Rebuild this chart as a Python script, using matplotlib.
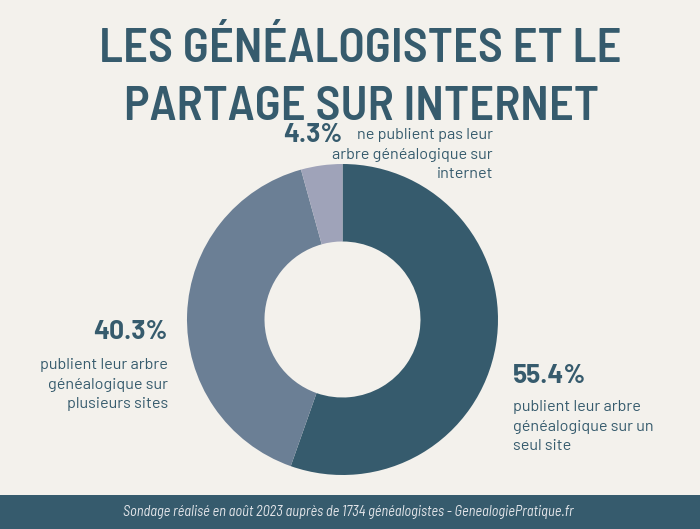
import matplotlib.pyplot as plt
from matplotlib.patches import Rectangle

values = [55.4, 40.3, 4.3]
pct_labels = ["55.4%", "40.3%", "4.3%"]
descriptions = [
    "publient leur arbre\ngénéalogique sur un\nseul site",
    "publient leur arbre\ngénéalogique sur\nplusieurs sites",
    "ne publient pas leur\narbre généalogique sur\ninternet",
]
colors = ["#365b6d", "#6b7f95", "#9fa3b9"]
title_lines = ["LES GÉNÉALOGISTES ET LE", "PARTAGE SUR INTERNET"]
footer = "Sondage réalisé en août 2023 auprès de 1734 généalogistes - GenealogiePratique.fr"

bg = "#f3f1ec"
dark = "#365b6d"
W, H = 700, 529

title_font = ["Barlow Semi Condensed", "Roboto", "DejaVu Sans"]
lab_font = ["Barlow", "Roboto", "DejaVu Sans"]
foot_font = ["Barlow Semi Condensed", "Roboto", "DejaVu Sans"]

def Y(y):
    return H - y

fig = plt.figure(figsize=(7, 5.29), dpi=100, facecolor=bg)
ax = fig.add_axes([0, 0, 1, 1])
ax.set_facecolor(bg)

ax.pie(values, colors=colors, startangle=90, counterclock=False,
       center=(342.5, Y(319.5)), radius=155.5,
       wedgeprops=dict(width=77.5, edgecolor="none"))
ax.set_xlim(0, W)
ax.set_ylim(0, H)
ax.axis("off")

# title
ax.text(360, Y(62), title_lines[0], ha="center", va="baseline", fontsize=35,
        fontweight="semibold", color=dark, family=title_font)
ax.text(361, Y(120), title_lines[1], ha="center", va="baseline", fontsize=35,
        fontweight="semibold", color=dark, family=title_font)

# labels
pct_size = 19
desc_size = 11.7
ax.text(342, Y(142), pct_labels[2], ha="right", va="baseline", fontsize=pct_size,
        fontweight="bold", color=dark, family=lab_font)
ax.text(493, Y(178), descriptions[2], ha="right", va="baseline", fontsize=desc_size,
        color=dark, linespacing=1.5, family=lab_font)

ax.text(168, Y(339), pct_labels[1], ha="right", va="baseline", fontsize=pct_size,
        fontweight="bold", color=dark, family=lab_font)
ax.text(168, Y(408), descriptions[1], ha="right", va="baseline", fontsize=desc_size,
        color=dark, linespacing=1.5, family=lab_font)

ax.text(513, Y(383), pct_labels[0], ha="left", va="baseline", fontsize=pct_size,
        fontweight="bold", color=dark, family=lab_font)
ax.text(513, Y(450), descriptions[0], ha="left", va="baseline", fontsize=desc_size,
        color=dark, linespacing=1.5, family=lab_font)

# footer band
ax.add_patch(Rectangle((0, 0), W, Y(495), facecolor=dark, edgecolor="none"))
ax.text(348, Y(512), footer, ha="center", va="center", fontsize=10.4,
        style="italic", color="#e4e6ea", family=foot_font)

fig.savefig("out.png", dpi=100, facecolor=bg)
